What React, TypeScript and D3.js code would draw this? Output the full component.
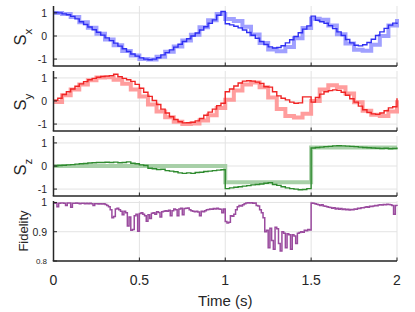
import React from "react";
import { scaleLinear, line, curveStepAfter } from "d3";

// time grids
const dtFine = 0.025;
const dtCoarse = 0.05;
const dtFid = 0.01;

// Sx measured (thin) and ideal (thick)
const sxMeas = [
  1.02, 1.0, 0.96, 0.92, 0.85, 0.74, 0.62, 0.5, 0.39, 0.27,
  0.16, 0.04, -0.08, -0.2, -0.31, -0.44, -0.55, -0.67, -0.78, -0.87,
  -0.95, -1.0, -1.03, -1.0, -0.94, -0.82, -0.72, -0.6, -0.48, -0.36,
  -0.24, -0.12, 0.0, 0.13, 0.26, 0.4, 0.55, 0.7, 0.9, 1.06,
  0.53, 0.48, 0.42, 0.35, 0.26, 0.15, 0.03, -0.1, -0.24, -0.37,
  -0.47, -0.52, -0.5, -0.42, -0.3, -0.16, -0.02, 0.14, 0.3, 0.44,
  0.86, 0.68, 0.62, 0.55, 0.45, 0.32, 0.18, 0.02, -0.15, -0.3,
  -0.4, -0.43, -0.38, -0.28, -0.14, 0.02, 0.18, 0.33, 0.47, 0.56,
  0.52,
];
const sxIdeal = [
  1.0, 0.95, 0.82, 0.6, 0.36, 0.1, -0.15, -0.4, -0.65, -0.85,
  -1.0, -1.02, -0.9, -0.68, -0.45, -0.2, 0.05, 0.38, 0.68, 0.95,
  0.74, 0.65, 0.4, 0.06, -0.3, -0.58, -0.66, -0.48, -0.1, 0.35,
  0.75, 0.7, 0.45, 0.08, -0.32, -0.6, -0.64, -0.38, 0.0, 0.45,
  0.74,
];

// Sy
const syMeas = [
  0.03, 0.12, 0.28, 0.4, 0.52, 0.64, 0.74, 0.84, 0.92, 0.98,
  1.03, 1.06, 1.08, 1.1, 1.16, 1.05, 0.98, 0.92, 0.85, 0.72,
  0.55, 0.38, 0.2, 0.02, -0.15, -0.35, -0.52, -0.68, -0.8, -0.9,
  -0.95, -0.94, -0.92, -0.86, -0.76, -0.62, -0.48, -0.35, -0.2, -0.1,
  0.4, 0.52, 0.65, 0.78, 0.86, 0.88, 0.86, 0.82, 0.76, 0.62,
  0.6, 0.4, 0.22, 0.12, 0.05, -0.05, -0.1, -0.08, 0.18, 0.18,
  -0.05, 0.15, 0.3, 0.4, 0.45, 0.48, 0.46, 0.38, 0.25, 0.1,
  -0.05, -0.22, -0.38, -0.5, -0.56, -0.58, -0.52, -0.42, -0.3, -0.25,
  0.12,
];
const syIdeal = [
  -0.04, 0.25, 0.5, 0.72, 0.9, 1.02, 1.03, 0.92, 0.75, 0.5,
  0.2, -0.15, -0.45, -0.7, -0.9, -1.0, -0.98, -0.85, -0.62, -0.3,
  0.05, 0.45, 0.72, 0.8, 0.6, 0.15, -0.35, -0.65, -0.72, -0.55,
  0.0, 0.5, 0.68, 0.6, 0.32, -0.05, -0.42, -0.6, -0.65, -0.45,
  0.03,
];

// Sz
const szMeas = [
  0.0, 0.02, 0.03, 0.05, 0.06, 0.08, 0.1, 0.11, 0.13, 0.14,
  0.15, 0.15, 0.16, 0.15, 0.17, 0.14, 0.15, 0.18, 0.12, 0.1,
  0.05, 0.02, -0.1, -0.12, -0.15, -0.14, -0.2, -0.22, -0.25, -0.3,
  -0.32, -0.3, -0.32, -0.28, -0.27, -0.24, -0.22, -0.2, -0.18, -0.16,
  -0.98, -0.95, -0.92, -0.9, -0.87, -0.85, -0.82, -0.8, -0.78, -0.75,
  -0.72, -0.8, -0.84, -0.9, -0.95, -0.98, -1.0, -1.03, -1.02, -0.98,
  0.78, 0.8, 0.82, 0.84, 0.85, 0.87, 0.88, 0.87, 0.86, 0.85,
  0.84, 0.82, 0.8, 0.79, 0.78, 0.77, 0.76, 0.77, 0.75, 0.76,
  0.8,
];
const szIdealT = [0, 1, 1.5, 2];
const szIdeal = [0, -0.7, 0.8, 0.8];

// Fidelity
const fidelity = [
  0.998, 0.997, 0.985, 0.997, 0.998, 0.998, 0.997, 0.99, 0.998, 0.998,
  0.984, 0.997, 0.997, 0.998, 0.997, 0.996, 0.997, 0.997, 0.996, 0.997,
  0.996, 0.997, 0.996, 0.99, 0.996, 0.996, 0.995, 0.996, 0.995, 0.996,
  0.993, 0.99, 0.985, 0.975, 0.948, 0.952, 0.978, 0.98, 0.975, 0.97,
  0.958, 0.97, 0.965, 0.92, 0.95, 0.905, 0.908, 0.955, 0.96, 0.902,
  0.962, 0.965, 0.96, 0.955, 0.936, 0.958, 0.945, 0.963, 0.965, 0.96,
  0.968, 0.966, 0.95, 0.968, 0.97, 0.972, 0.97, 0.973, 0.955, 0.972,
  0.978, 0.975, 0.955, 0.978, 0.98, 0.958, 0.979, 0.98, 0.981, 0.975,
  0.972, 0.97, 0.968, 0.97, 0.967, 0.955, 0.97, 0.968, 0.972, 0.975,
  0.976, 0.978, 0.977, 0.979, 0.978, 0.98, 0.978, 0.977, 0.965, 0.978,
  0.935, 0.93, 0.932, 0.955, 0.953, 0.96, 0.975, 0.985, 0.99, 0.988,
  0.992, 0.996, 0.998, 0.999, 0.998, 0.999, 0.997, 0.998, 0.99, 0.988,
  0.975, 0.965, 0.948, 0.9, 0.905, 0.845, 0.912, 0.87, 0.84, 0.915,
  0.91, 0.86, 0.834, 0.9, 0.895, 0.845, 0.893, 0.89, 0.84, 0.89,
  0.885, 0.86, 0.895, 0.897, 0.9, 0.898, 0.905, 0.903, 0.908, 0.906,
  0.998, 0.997, 0.996, 0.994, 0.992, 0.99, 0.992, 0.988, 0.987, 0.985,
  0.984, 0.983, 0.98, 0.982, 0.978, 0.98, 0.977, 0.979, 0.976, 0.978,
  0.975, 0.977, 0.974, 0.976, 0.975, 0.978, 0.977, 0.98, 0.979, 0.982,
  0.982, 0.984, 0.985, 0.984, 0.987, 0.986, 0.988, 0.99, 0.989, 0.991,
  0.992, 0.991, 0.993, 0.992, 0.994, 0.993, 0.992, 0.99, 0.96, 0.99,
  0.988,
];

const xTicks = [0, 0.5, 1, 1.5, 2];
const xTickLabels = ["0", "0.5", "1", "1.5", "2"];
const sTicks = [-1, 0, 1];
const sTickLabels = ["-1", "0", "1"];
const fidTicks = [0.8, 0.9, 1];
const fidTickLabels = ["0.8", "0.9", "1"];

const font = "'Liberation Sans', Arial, Helvetica, sans-serif";
const axisColor = "#262626";
const gridColor = "#e3e3e3";

const panelTops = [6, 71, 136, 201];
const panelH = 60;

const x = scaleLinear().domain([0, 2]).range([53.5, 397]);

const toPts = (vals: number[], dt: number) => vals.map((v, i) => [i * dt, v] as [number, number]);

interface Series {
  pts: [number, number][];
  color: string;
  width: number;
  opacity?: number;
}

interface PanelProps {
  top: number;
  domain: [number, number];
  ticks: number[];
  tickLabels: string[];
  series: Series[];
  label: React.ReactNode;
  smallFirstTick?: boolean;
}

const Panel: React.FC<PanelProps> = ({ top, domain, ticks, tickLabels, series, label, smallFirstTick }) => {
  const y = scaleLinear().domain(domain).range([top + panelH, top]);
  const bottom = top + panelH;
  const ln = line<[number, number]>()
    .x((d) => x(d[0]))
    .y((d) => y(d[1]))
    .curve(curveStepAfter);

  return (
    <g>
      {/* grid */}
      {xTicks.slice(1).map((t) => (
        <line key={"gx" + t} x1={x(t)} x2={x(t)} y1={top} y2={bottom} stroke={gridColor} strokeWidth={1} />
      ))}
      {ticks.map((t) => (
        <line key={"gy" + t} x1={x(0)} x2={x(2)} y1={y(t)} y2={y(t)} stroke={gridColor} strokeWidth={1} />
      ))}
      {series.map((s, i) => (
        <path key={i} d={ln(s.pts) || ""} fill="none" stroke={s.color} strokeWidth={s.width} opacity={s.opacity ?? 1} strokeLinejoin="miter" />
      ))}
      {/* axes */}
      <line x1={x(0)} x2={x(0)} y1={top} y2={bottom} stroke={axisColor} strokeWidth={1.5} />
      <line x1={x(0) - 0.75} x2={x(2)} y1={bottom} y2={bottom} stroke={axisColor} strokeWidth={1.5} />
      {xTicks.map((t) => (
        <line key={"tx" + t} x1={x(t)} x2={x(t)} y1={bottom} y2={bottom - 3.5} stroke={axisColor} strokeWidth={1} />
      ))}
      {ticks.map((t, i) => (
        <g key={"ty" + t}>
          <line x1={x(0)} x2={x(0) + 3.5} y1={y(t)} y2={y(t)} stroke={axisColor} strokeWidth={1} />
          <text
            x={47}
            y={y(t)}
            textAnchor="end"
            dominantBaseline="central"
            fontSize={smallFirstTick && i === 0 ? 8 : 10.5}
            fill={axisColor}
            fontFamily={font}
          >
            {tickLabels[i]}
          </text>
        </g>
      ))}
      {label}
    </g>
  );
};

const SLabel: React.FC<{ top: number; sub: string }> = ({ top, sub }) => (
  <text
    transform={`translate(25.5,${top + 31}) rotate(-90)`}
    textAnchor="middle"
    fontFamily={font}
    fontSize={16.5}
    fill={axisColor}
  >
    S
    <tspan fontSize={11.5} dy={6.5}>
      {sub}
    </tspan>
  </text>
);

const App: React.FC = () => {
  const panels: PanelProps[] = [
    {
      top: panelTops[0],
      domain: [-1.3, 1.3],
      ticks: sTicks,
      tickLabels: sTickLabels,
      series: [
        { pts: toPts(sxIdeal, dtCoarse), color: "#8f8fff", width: 4, opacity: 0.85 },
        { pts: toPts(sxMeas, dtFine), color: "#2f2ff2", width: 1.4 },
      ],
      label: <SLabel top={panelTops[0]} sub="x" />,
    },
    {
      top: panelTops[1],
      domain: [-1.3, 1.3],
      ticks: sTicks,
      tickLabels: sTickLabels,
      series: [
        { pts: toPts(syIdeal, dtCoarse), color: "#ff8c8c", width: 4, opacity: 0.85 },
        { pts: toPts(syMeas, dtFine), color: "#f02424", width: 1.4 },
      ],
      label: <SLabel top={panelTops[1]} sub="y" />,
    },
    {
      top: panelTops[2],
      domain: [-1.3, 1.3],
      ticks: sTicks,
      tickLabels: sTickLabels,
      series: [
        { pts: szIdealT.map((t, i) => [t, szIdeal[i]] as [number, number]), color: "#9fcb9f", width: 4, opacity: 0.9 },
        { pts: toPts(szMeas, dtFine), color: "#2e8a2e", width: 1.4 },
      ],
      label: <SLabel top={panelTops[2]} sub="z" />,
    },
    {
      top: panelTops[3],
      domain: [0.8, 1.005],
      ticks: fidTicks,
      tickLabels: fidTickLabels,
      smallFirstTick: true,
      series: [{ pts: toPts(fidelity, dtFid), color: "#9a4b9e", width: 1.5 }],
      label: (
        <text
          transform={`translate(28,${panelTops[3] + 30}) rotate(-90)`}
          textAnchor="middle"
          fontFamily={font}
          fontSize={13}
          fill={axisColor}
        >
          Fidelity
        </text>
      ),
    },
  ];

  return (
    <svg width={415} height={312} style={{ position: "absolute", left: 0, top: 0, background: "white" }}>
      {panels.map((p, i) => (
        <Panel key={i} {...p} />
      ))}
      {xTicks.map((t, i) => (
        <text key={"xl" + t} x={x(t)} y={285} textAnchor="middle" fontSize={14} fontFamily={font} fill={axisColor}>
          {xTickLabels[i]}
        </text>
      ))}
      <text x={x(1)} y={306} textAnchor="middle" fontSize={15} fontFamily={font} fill={axisColor}>
        Time (s)
      </text>
    </svg>
  );
};

export default App;
